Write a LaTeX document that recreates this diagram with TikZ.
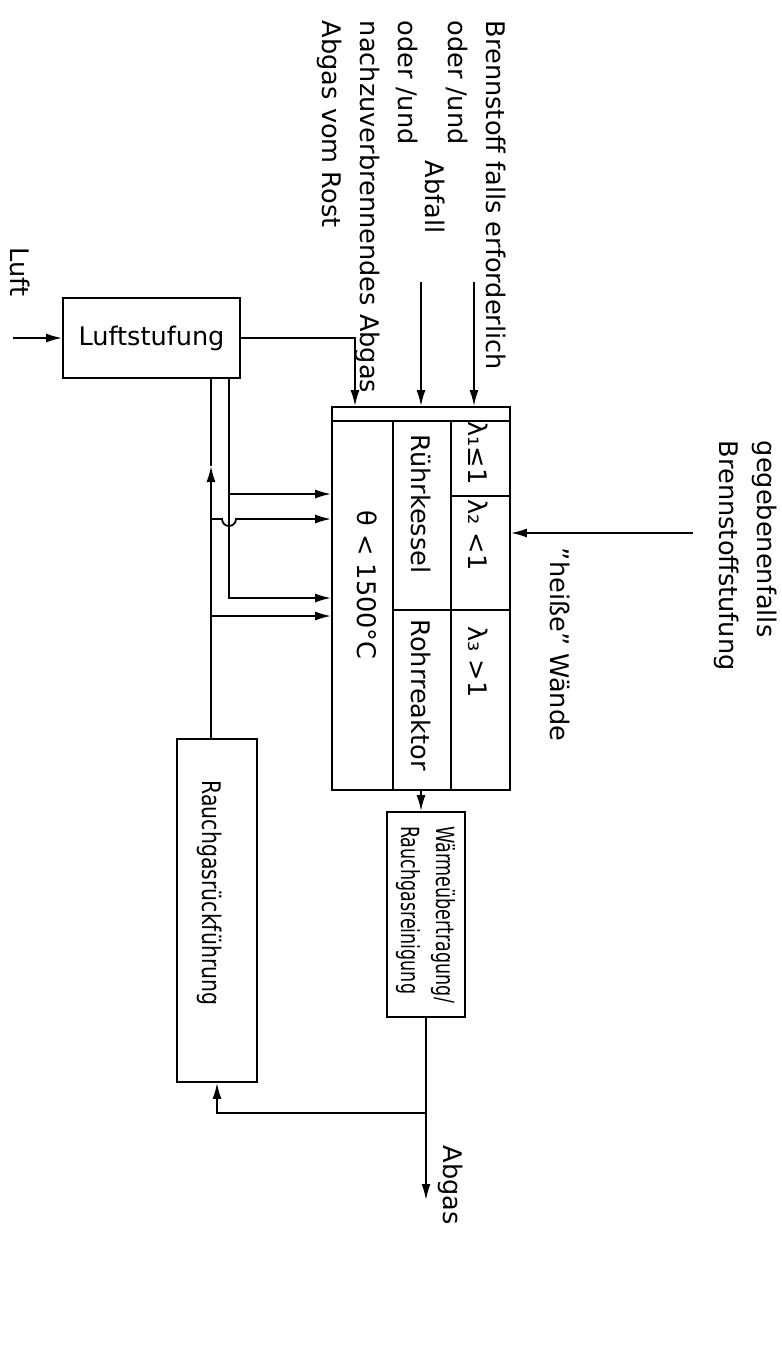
\documentclass[tikz,border=0pt]{standalone}
\usepackage{fontspec}
\setmainfont{DejaVu Sans}
\usepackage{tikz}
\usetikzlibrary{arrows.meta, calc}
\tikzset{
	blk/.style  ={rectangle, draw=black, inner sep=0pt, align=center},
	vtext/.style={rotate=-90, inner sep=0pt, align=left},
	sig/.style  ={-{Latex[length=8pt, width=4.5pt]}},
}

\begin{document}
\begin{tikzpicture}[x=0.5pt, y=-0.5pt, line width=0.9pt, font=\fontsize{12.8}{19}\selectfont]
	\useasboundingbox (0,0) rectangle (782,1362);
	% boxes
	\node[blk, minimum width=88.5pt, minimum height=40pt] (luftst) at (151.5,338) {Luftstufung};
	\node[blk, minimum width=89pt, minimum height=191.5pt] (reaktor) at (421,598.5) {};
	\node[blk, minimum width=39pt, minimum height=102.5pt] (waerme) at (426,914.5) {};
	\node[blk, minimum width=40pt, minimum height=171.5pt] (rueck) at (217,910.5) {};
	% cells of the combustion chamber
	\draw (332,421) -- (510,421);
	\draw (393,421) -- (393,790);
	\draw (451,421) -- (451,790);
	\draw (451,496) -- (510,496);
	\draw (393,610) -- (510,610);
	\node[vtext] (theta) at (367,585) {θ < 1500°C};
	\node[vtext] (ruehr) at (421,504) {Rührkessel};
	\node[vtext] (rohr) at (421,695) {Rohrreaktor};
	\node[vtext] (lam1) at (478,453) {λ₁≤1};
	\node[vtext] (lam2) at (478,535) {λ₂ <1};
	\node[vtext] (lam3) at (478,662) {λ₃ >1};
	\node[vtext, font=\fontsize{12.5}{17.5}\selectfont] (waermetxt) at (waerme.center) {\scalebox{0.7}[1]{Wärmeübertragung/}\\\scalebox{0.7}[1]{Rauchgasreinigung}};
	\node[vtext] (ruecktxt) at (210,893) {\scalebox{0.8}[1]{Rauchgasrückführung}};
	% labels
	\node[vtext, anchor=north west] (brenn) at (507,20) {Brennstoff falls erforderlich\\oder /und};
	\node[vtext, anchor=north west] (abfall) at (446,160) {Abfall};
	\node[vtext, anchor=north west] (rost) at (419,20) {oder /und\\nachzuverbrennendes Abgas\\Abgas vom Rost};
	\node[vtext, anchor=north west] (stufung) at (778,440) {gegebenenfalls\\Brennstoffstufung};
	\node[vtext, anchor=north west] (waende) at (571,547) {"heiße" Wände};
	\node[vtext] (luftlbl) at (20,272) {Luft};
	\node[vtext] (abgas) at (451,1185) {Abgas};
	% inputs
	\coordinate (luftin) at (13,338);
	\coordinate (brennin) at (474,282);
	\coordinate (abfallin) at (421,282);
	\coordinate (stufin) at (693,533);
	\coordinate (abgasout) at (426,1200);
	\coordinate (rostin) at (355,0);
	\draw[sig] (luftin) -- (luftst.west);
	\draw[sig] (luftst.east) -| (rostin |- reaktor.north);
	\draw[sig] (brennin) -- (brennin |- reaktor.north);
	\draw[sig] (abfallin) -- (abfallin |- reaktor.north);
	\draw[sig] (stufin) -- (stufin -| reaktor.east);
	% air and flue gas feeds on the left
	\coordinate (lA) at (229,0);
	\coordinate (lB) at (211,0);
	\coordinate (h1) at (0,494);
	\coordinate (h2) at (0,519);
	\coordinate (h3) at (0,598);
	\coordinate (h4) at (0,616);
	\coordinate (h5) at (0,466);
	\draw[sig] (luftst.south -| lA) |- (reaktor.west |- h3);
	\draw[sig] (lA |- h1) -- (reaktor.west |- h1);
	\draw[sig] (rueck.north -| lB) -- (lB |- h5);
	\draw (lB |- h5) -- (luftst.south -| lB);
	\draw[sig] (lB |- h2) -- (222,519) to[out=-90, in=180] (229,526) to[out=0, in=-90] (236,519) -- (reaktor.west |- h2);
	\draw[sig] (lB |- h4) -- (reaktor.west |- h4);
	% outlet
	\coordinate (h6) at (0,1113);
	\draw[sig] (ruehr |- reaktor.south) -- (ruehr |- waerme.north);
	\draw[sig] (waerme.south) -- (abgasout);
	\draw[sig] (waerme.south |- h6) -| (rueck.south);
\end{tikzpicture}
\end{document}
